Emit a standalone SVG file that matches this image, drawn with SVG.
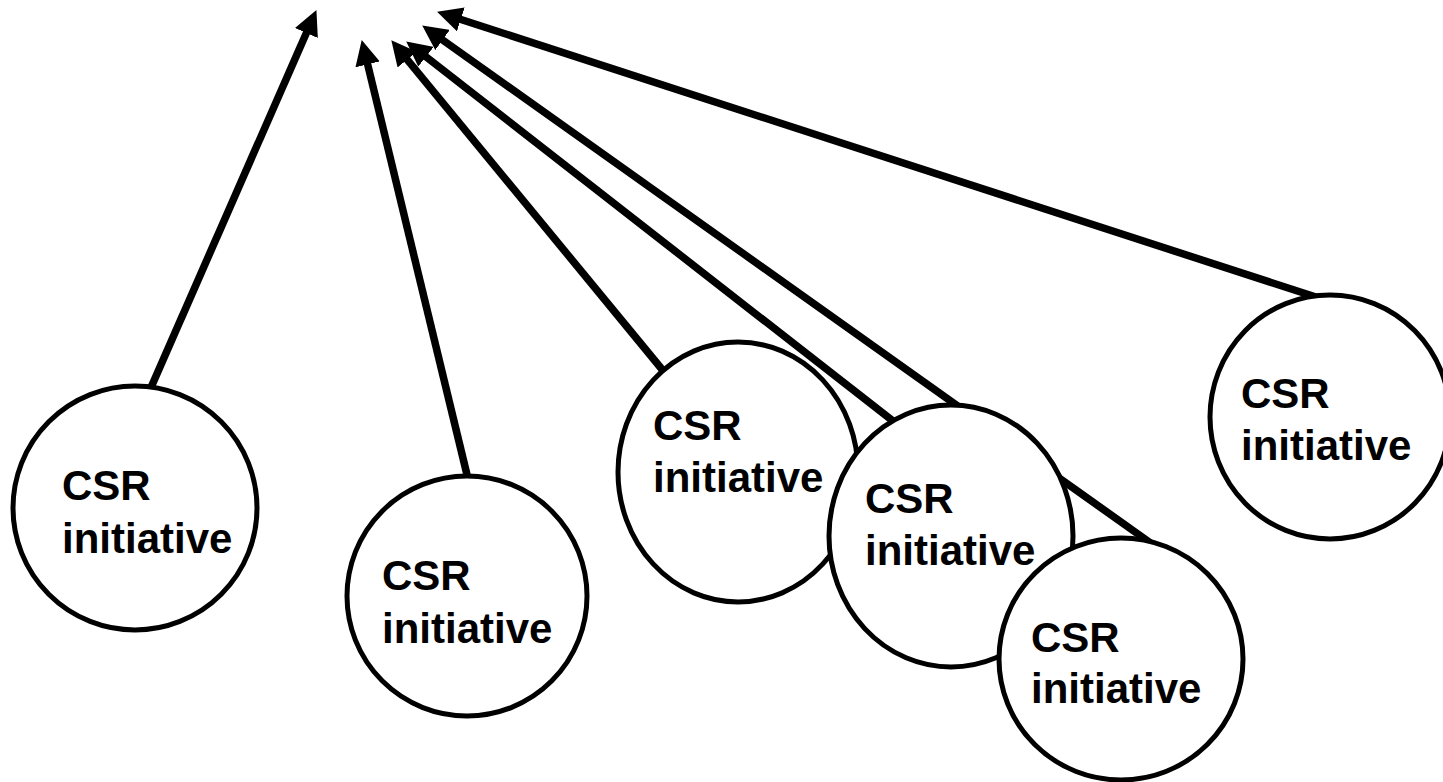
<svg xmlns="http://www.w3.org/2000/svg" width="1443" height="782" viewBox="0 0 1443 782">
<defs>
<style>
.conn{stroke:#000;stroke-width:7.5;fill:none;marker-end:url(#ah)}
.node ellipse{fill:#fff;stroke:#000;stroke-width:5}
.node text{font-family:"Liberation Sans",Arial,sans-serif;font-weight:bold;font-size:42px;fill:#000}
</style>
<marker id="ah" markerUnits="userSpaceOnUse" viewBox="0 0 25 25" markerWidth="25" markerHeight="25" refX="12" refY="12.5" orient="auto">
<path d="M0,0 L25,12.5 L0,25 z" fill="#000"/>
</marker>
</defs>
<rect width="1443" height="782" fill="#fff"/>
<g id="connectors">
<line class="conn" x1="149" y1="392" x2="311.2" y2="22"/>
<line class="conn" x1="469" y1="483" x2="364.8" y2="52.7"/>
<line class="conn" x1="665" y1="373" x2="399.6" y2="50.3"/>
<line class="conn" x1="893" y1="421" x2="416.5" y2="49.4"/>
<line class="conn" x1="1152" y1="544" x2="432.8" y2="33"/>
<line class="conn" x1="1319" y1="298" x2="449.4" y2="15.7"/>
</g>
<g id="node1" class="node"><ellipse cx="135" cy="508" rx="122" ry="122"/><text x="62" y="500">CSR</text><text x="62" y="553">initiative</text></g>
<g id="node2" class="node"><ellipse cx="467" cy="596" rx="120" ry="120"/><text x="382" y="590">CSR</text><text x="382" y="643">initiative</text></g>
<g id="node3" class="node"><ellipse cx="738" cy="472" rx="120" ry="130"/><text x="653" y="440">CSR</text><text x="653" y="492">initiative</text></g>
<g id="node4" class="node"><ellipse cx="951" cy="536" rx="122" ry="131"/><text x="865" y="513">CSR</text><text x="865" y="565">initiative</text></g>
<g id="node5" class="node"><ellipse cx="1121" cy="659" rx="122" ry="121"/><text x="1031" y="652">CSR</text><text x="1031" y="703">initiative</text></g>
<g id="node6" class="node"><ellipse cx="1330" cy="417" rx="120" ry="122"/><text x="1241" y="408">CSR</text><text x="1241" y="460">initiative</text></g>
</svg>
